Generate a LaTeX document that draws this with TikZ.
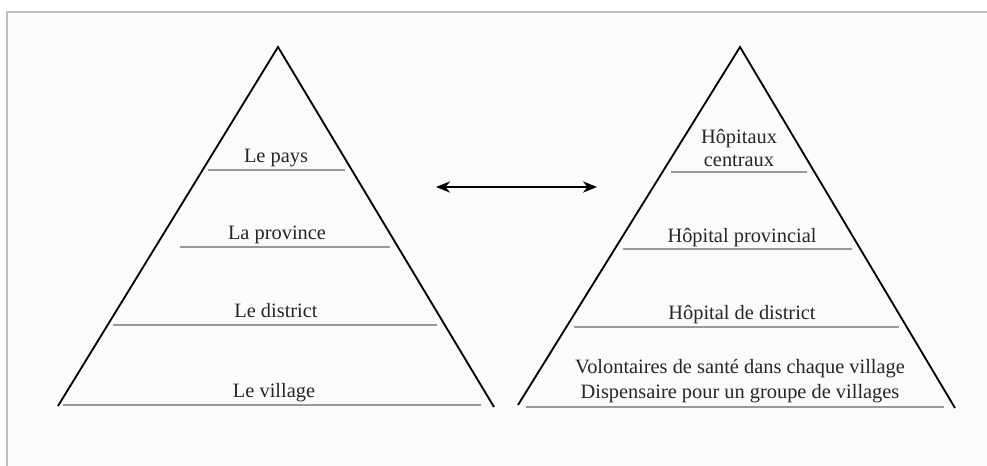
\documentclass[tikz,border=0pt]{standalone}
\usepackage{fontspec}
\setmainfont{Liberation Serif}
\usetikzlibrary{arrows.meta,positioning}

\begin{document}
\begin{tikzpicture}[
    x=0.025cm, y=-0.025cm,
    font=\fontsize{14.5}{17}\selectfont,
    side/.style={draw=black, line width=1.3pt, line join=miter},
    level/.style={draw=gray!80, line width=1.4pt},
    tag/.style={anchor=base, inner sep=0pt, text=black!85},
    twotag/.style={anchor=center, inner sep=0pt, align=center, text=black!85},
    link/.style={<->, >={Stealth[length=10pt,width=8pt]}, line width=1.4pt}
]
    \useasboundingbox (0,0) rectangle (987,466);

    % Frame
    \fill[gray!3] (7,12) rectangle (987,466);
    \draw[gray!50, line width=1.4pt] (7,466) -- (7,12) -- (987,12);

    % Left pyramid
    \coordinate (ltop) at (278,47);
    \coordinate (lleft) at (58,406);
    \coordinate (lright) at (494,407);
    \draw[side] (lleft) -- (ltop) -- (lright);

    \draw[level] (208,170) -- (345,170);
    \draw[level] (180,247) -- (390,247);
    \draw[level] (113,325) -- (437,325);
    \draw[level] (63,405) -- (481,405);

    \node[tag] (pays) at (276,162) {Le pays};
    \node[tag] (province) at (277,239) {La province};
    \node[tag] (district) at (276,317) {Le district};
    \node[tag] (village) at (274,397) {Le village};

    % Right pyramid
    \coordinate (rtop) at (740,47);
    \coordinate (rleft) at (518,405);
    \coordinate (rright) at (955,408);
    \draw[side] (rleft) -- (rtop) -- (rright);

    \draw[level] (671,172) -- (807,172);
    \draw[level] (623,249) -- (852,249);
    \draw[level] (574,327) -- (899,327);
    \draw[level] (526,407) -- (944,407);

    \node[twotag] (central) at (739,148) {Hôpitaux\\centraux};
    \node[tag] (hprov) at (742,242) {Hôpital provincial};
    \node[tag] (hdist) at (742,319) {Hôpital de district};
    \node[twotag, font=\fontsize{14.5}{18}\selectfont] (local) at (740,381)
        {Volontaires de santé dans chaque village\\Dispensaire pour un groupe de villages};

    % Correspondence
    \coordinate (aleft) at (436,187);
    \coordinate (aright) at (597,187);
    \draw[link] (aleft) -- (aright);
\end{tikzpicture}
\end{document}
